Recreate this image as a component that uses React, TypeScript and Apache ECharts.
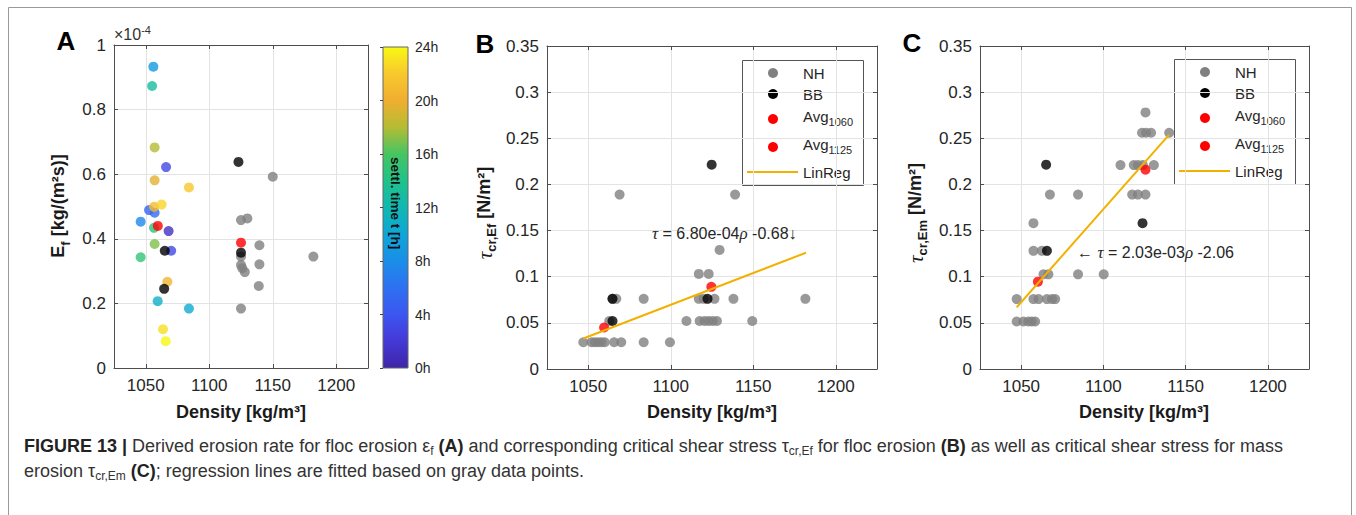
import React, { useEffect, useRef } from 'react';
import * as echarts from 'echarts';

const FONT = "'Liberation Sans', Arial, Helvetica, sans-serif";
const SERIF = "'Liberation Serif', 'DejaVu Serif', serif";

// ---------- data ----------
const densityTicks = [1050, 1100, 1150, 1200];

// parula-like colormap, 0h..24h in 2h steps
const parula = [
  '#3e26a8', '#4538d6', '#3c56f0', '#2e70f2', '#1a8ee8', '#0ea6d8', '#10b8b2',
  '#20c28a', '#46c562', '#b4bc34', '#f0ae30', '#f8c82e', '#f8f814',
];

// Panel A: E_f [1e-4 kg/(m2 s)]
const aNH = [
  [1125, 0.458], [1130, 0.463], [1139.5, 0.38], [1125, 0.345], [1125, 0.319],
  [1126, 0.309], [1128, 0.297], [1139.5, 0.321], [1139, 0.254], [1125, 0.184],
  [1182, 0.345], [1150, 0.592],
];
const aBB = [[1123, 0.638], [1125, 0.357], [1065, 0.363], [1064.5, 0.245]];
const aAvg = [[1059.5, 0.44], [1125, 0.388]];
// [density, E_f, settling time h]
const aTimed = [
  [1056, 0.933, 9], [1055, 0.873, 13], [1057, 0.683, 18], [1066, 0.622, 3],
  [1057, 0.581, 19.5], [1084, 0.559, 22], [1052.6, 0.489, 5], [1057, 0.481, 5.5],
  [1056.5, 0.499, 21], [1062.5, 0.506, 22.5], [1046, 0.453, 7.5], [1056.5, 0.434, 14.5],
  [1068, 0.424, 1], [1057, 0.384, 17], [1070, 0.363, 3], [1046, 0.343, 15],
  [1067, 0.267, 20.5], [1059.4, 0.207, 11], [1084, 0.184, 10.5], [1063.6, 0.12, 23],
  [1065.7, 0.083, 24],
];

// Panel B: tau_cr,Ef [N/m2]
const bNH = [
  [1069, 0.189], [1139, 0.189], [1129.6, 0.129], [1117, 0.103], [1123, 0.103],
  [1064.7, 0.076], [1067, 0.076], [1083.6, 0.076], [1117, 0.076], [1120, 0.076],
  [1126.5, 0.076], [1138, 0.076], [1181.6, 0.076],
  [1062.7, 0.052], [1109.5, 0.052], [1117.5, 0.052], [1120.5, 0.052], [1123, 0.052],
  [1125.5, 0.052], [1128, 0.052], [1149.4, 0.052],
  [1047, 0.029], [1052, 0.029], [1054, 0.029], [1056, 0.029], [1058, 0.029],
  [1060, 0.029], [1065.7, 0.029], [1070, 0.029], [1083.6, 0.029], [1099.5, 0.029],
];
const bBB = [[1124.8, 0.2214], [1064.7, 0.076], [1122.3, 0.076], [1064.7, 0.052]];
const bAvg = [[1059.6, 0.045], [1124.6, 0.089]];
const bReg = [[1047, 0.033], [1182, 0.126]];

// Panel C: tau_cr,Em [N/m2]
const cNH = [
  [1125.6, 0.278], [1123.5, 0.256], [1126, 0.256], [1129, 0.256], [1140, 0.256],
  [1110.4, 0.221], [1118.5, 0.221], [1121, 0.221], [1124, 0.221], [1130.7, 0.221],
  [1067.5, 0.189], [1084.6, 0.189], [1117.5, 0.189], [1121, 0.189], [1125.6, 0.189],
  [1057.5, 0.158], [1057.5, 0.128], [1062.6, 0.128],
  [1063.6, 0.1026], [1066.6, 0.1026], [1084.6, 0.1026], [1100.2, 0.1026],
  [1047.3, 0.0758], [1057.5, 0.0758], [1060.6, 0.0758], [1065.7, 0.0758], [1068.8, 0.0758], [1070.7, 0.0758],
  [1047.3, 0.0515], [1051.4, 0.0515], [1054.4, 0.0515], [1056.5, 0.0515], [1058.5, 0.0515],
];
const cBB = [[1065.2, 0.2214], [1123.8, 0.158], [1065.7, 0.128]];
const cAvg = [[1060.2, 0.0946], [1125.6, 0.216]];
const cReg = [[1047.3, 0.0668], [1140, 0.254]];

const legendItems = ['NH', 'BB', 'Avg1060', 'Avg1125', 'LinReg'];

// ---------- styles ----------
const GRAY = '#808080';
const RED = '#ff0000';
const ORANGE = '#f2b100';
const AXIS = '#4d4d4d';
const GRID = '#e3e3e3';
const INK = '#262626';

function xAxes(gridIndex: number) {
  return [
    {
      gridIndex, type: 'value', min: 1025, max: 1225, position: 'bottom',
      axisLine: { show: true, onZero: false, lineStyle: { color: AXIS } },
      axisTick: { show: true, inside: true, length: 4, customValues: densityTicks, lineStyle: { color: AXIS } },
      axisLabel: { customValues: densityTicks, formatter: (v: number) => String(v), color: INK, fontSize: 17, fontFamily: FONT, margin: 9 },
      splitLine: { show: true, lineStyle: { color: GRID } },
    },
    {
      gridIndex, type: 'value', min: 1025, max: 1225, position: 'top',
      axisLine: { show: true, onZero: false, lineStyle: { color: AXIS } },
      axisTick: { show: true, inside: true, length: 4, customValues: densityTicks, lineStyle: { color: AXIS } },
      axisLabel: { show: false },
      splitLine: { show: false },
    },
  ];
}
function yAxes(gridIndex: number, max: number, interval: number) {
  return [
    {
      gridIndex, type: 'value', min: 0, max, interval, position: 'left',
      axisLine: { show: true, onZero: false, lineStyle: { color: AXIS } },
      axisTick: { show: true, inside: true, length: 4, lineStyle: { color: AXIS } },
      axisLabel: { color: INK, fontSize: 17, fontFamily: FONT, margin: 8 },
      splitLine: { show: true, lineStyle: { color: GRID } },
    },
    {
      gridIndex, type: 'value', min: 0, max, interval, position: 'right',
      axisLine: { show: true, onZero: false, lineStyle: { color: AXIS } },
      axisTick: { show: true, inside: true, length: 4, lineStyle: { color: AXIS } },
      axisLabel: { show: false },
      splitLine: { show: false },
    },
  ];
}

function scatter(name: string, data: any, xi: number, color: string | null) {
  const s: any = {
    name, type: 'scatter', xAxisIndex: xi, yAxisIndex: xi, data,
    symbol: 'circle', symbolSize: 10, silent: true,
  };
  if (color) s.itemStyle = { color };
  return s;
}
function regLine(name: string, data: any, xi: number) {
  return {
    name, type: 'line', xAxisIndex: xi, yAxisIndex: xi, data, symbol: 'none', silent: true,
    lineStyle: { color: ORANGE, width: 2 },
  };
}

const subRich = {
  n: { fontSize: 15, verticalAlign: 'top', fontFamily: FONT, fill: INK },
  s: { fontSize: 11, verticalAlign: 'bottom', padding: [8, 0, 0, 0], fontFamily: FONT, fill: INK },
};

function legend(x0: number, y0: number) {
  const rows = [13, 34, 59, 87, 112];
  const colors = [GRAY, '#000000', RED, RED];
  const children: any[] = [
    { type: 'rect', shape: { x: x0 + 0.5, y: y0 + 0.5, width: 121, height: 125 }, style: { fill: '#ffffff', stroke: '#555', lineWidth: 1 } },
  ];
  legendItems.forEach((label, i) => {
    const y = y0 + rows[i];
    if (i < 4) {
      children.push({ type: 'circle', shape: { cx: x0 + 31, cy: y, r: 5 }, style: { fill: colors[i] } });
    } else {
      children.push({ type: 'line', shape: { x1: x0 + 5, y1: y, x2: x0 + 56, y2: y }, style: { stroke: ORANGE, lineWidth: 2 } });
    }
    const m = label.match(/^(Avg)(\d+)$/);
    if (m) {
      children.push({
        type: 'text', x: x0 + 61, y: y - 1,
        style: { text: `{n|${m[1]}}{s|${m[2]}}`, rich: subRich, align: 'left', verticalAlign: 'middle' },
      });
    } else {
      children.push({
        type: 'text', x: x0 + 61, y,
        style: { text: label, fontSize: 15, fontFamily: FONT, fill: INK, align: 'left', verticalAlign: 'middle' },
      });
    }
  });
  return { type: 'group', children, z: 100 };
}

const yNameRich = {
  b: { fontSize: 18, fontWeight: 'bold', verticalAlign: 'top', fontFamily: FONT, fill: '#1a1a1a' },
  t: { fontSize: 21, fontStyle: 'italic', verticalAlign: 'top', fontFamily: SERIF, fill: '#1a1a1a' },
  s: { fontSize: 13, fontWeight: 'bold', verticalAlign: 'bottom', padding: [10, 0, 0, 0], fontFamily: FONT, fill: '#1a1a1a' },
};

const annRich = {
  n: { fontSize: 16, fontFamily: FONT, fill: INK },
  t: { fontSize: 17, fontStyle: 'italic', fontFamily: SERIF, fill: INK },
};

const capRich = {
  n: { fontSize: 18, verticalAlign: 'top', fontFamily: FONT, fill: '#333333' },
  b: { fontSize: 18, verticalAlign: 'top', fontWeight: 'bold', fontFamily: FONT, fill: '#222222' },
  s: { fontSize: 12, verticalAlign: 'bottom', padding: [8, 0, 0, 0], fontFamily: FONT, fill: '#333333' },
};

function txt(x: number, y: number, text: string, extra: any, rotation = 0) {
  return {
    type: 'text', x, y, rotation, z: 100,
    style: { text, align: 'center', verticalAlign: 'middle', fontFamily: FONT, fill: '#1a1a1a', ...extra },
  };
}

export default function App() {
  const ref = useRef<HTMLDivElement>(null);
  useEffect(() => {
    if (!ref.current) return;
    const chart = echarts.init(ref.current, null, { renderer: 'svg' });

    const gradient = {
      type: 'linear', x: 0, y: 1, x2: 0, y2: 0,
      colorStops: parula.map((c, i) => ({ offset: i / (parula.length - 1), color: c })),
    };

    const series: any[] = [
      scatter('NH', aNH, 0, GRAY),
      scatter('timed', aTimed, 0, null),
      scatter('BB', aBB, 0, '#000000'),
      scatter('Avg', aAvg, 0, RED),
      scatter('NH', bNH, 2, GRAY),
      regLine('LinReg', bReg, 2),
      scatter('BB', bBB, 2, '#000000'),
      scatter('Avg', bAvg, 2, RED),
      scatter('NH', cNH, 4, GRAY),
      regLine('LinReg', cReg, 4),
      scatter('BB', cBB, 4, '#000000'),
      scatter('Avg', cAvg, 4, RED),
    ];

    const option: any = {
      animation: false,
      backgroundColor: '#ffffff',
      textStyle: { fontFamily: FONT },
      grid: [
        { left: 114, top: 45, width: 254, height: 323 },
        { left: 547, top: 46, width: 330, height: 323 },
        { left: 980, top: 46, width: 329, height: 323 },
        { left: 383, top: 47, width: 25, height: 321, show: true, backgroundColor: gradient, borderColor: '#666', borderWidth: 1 },
      ],
      xAxis: [
        ...xAxes(0), ...xAxes(1), ...xAxes(2),
        { gridIndex: 3, type: 'value', min: 0, max: 1, show: false },
      ],
      yAxis: [
        ...yAxes(0, 1, 0.2), ...yAxes(1, 0.35, 0.05), ...yAxes(2, 0.35, 0.05),
        {
          gridIndex: 3, type: 'value', min: 0, max: 24, interval: 4, position: 'right',
          axisLine: { show: false },
          axisTick: { show: true, inside: true, length: 3, lineStyle: { color: '#444' } },
          axisLabel: { formatter: '{value}h', color: INK, fontSize: 14, fontFamily: FONT, margin: 7 },
          splitLine: { show: false },
        },
      ],
      visualMap: [{
        type: 'continuous', show: false, min: 0, max: 24, dimension: 2, seriesIndex: 1,
        inRange: { color: parula },
      }],
      series,
      graphic: [
        { type: 'polyline', shape: { points: [[8.5, 520], [8.5, 7.5], [1351.5, 7.5], [1351.5, 520]] }, style: { stroke: '#999', lineWidth: 1, fill: null } },
        txt(66, 41, 'A', { fontSize: 26, fontWeight: 'bold', fill: '#000' }),
        txt(485, 44, 'B', { fontSize: 26, fontWeight: 'bold', fill: '#000' }),
        txt(912, 43, 'C', { fontSize: 26, fontWeight: 'bold', fill: '#000' }),
        {
          type: 'text', x: 114, y: 33, z: 100,
          style: {
            text: '{n|×10}{p|-4}', align: 'left', verticalAlign: 'middle',
            rich: {
              n: { fontSize: 16, verticalAlign: 'bottom', fontFamily: FONT, fill: '#333' },
              p: { fontSize: 11, verticalAlign: 'top', padding: [0, 0, 7, 0], fontFamily: FONT, fill: '#333' },
            },
          },
        },
        txt(60, 206, '{b|E}{s|f}{b| [kg/(m²s)]}', { rich: yNameRich }, Math.PI / 2),
        txt(486, 213, '{t|τ}{s|cr,Ef}{b| [N/m²]}', { rich: yNameRich }, Math.PI / 2),
        txt(917, 213, '{t|τ}{s|cr,Em}{b| [N/m²]}', { rich: yNameRich }, Math.PI / 2),
        txt(241, 412, 'Density [kg/m³]', { fontSize: 18, fontWeight: 'bold' }),
        txt(712, 412, 'Density [kg/m³]', { fontSize: 18, fontWeight: 'bold' }),
        txt(1144, 412, 'Density [kg/m³]', { fontSize: 18, fontWeight: 'bold' }),
        txt(395, 203, 'settl. time t [h]', { fontSize: 13.5, fontWeight: 'bold', fill: '#111' }, -Math.PI / 2),
        {
          type: 'text', x: 652, y: 233, z: 100,
          style: { text: '{t|τ}{n| = 6.80e-04}{t|ρ}{n| -0.68↓}', rich: annRich, align: 'left', verticalAlign: 'middle' },
        },
        {
          type: 'text', x: 1077, y: 252, z: 100,
          style: { text: '{n|← }{t|τ}{n| = 2.03e-03}{t|ρ}{n| -2.06}', rich: annRich, align: 'left', verticalAlign: 'middle' },
        },
        legend(742, 60),
        legend(1174, 59),
        {
          type: 'text', x: 24, y: 447, z: 100,
          style: {
            text: '{b|FIGURE 13 | }{n|Derived erosion rate for floc erosion ε}{s|f}{n| }{b|(A)}{n| and corresponding critical shear stress τ}{s|cr,Ef}{n| for floc erosion }{b|(B)}{n| as well as critical shear stress for mass}',
            rich: capRich, align: 'left', verticalAlign: 'middle',
          },
        },
        {
          type: 'text', x: 24, y: 472, z: 100,
          style: {
            text: '{n|erosion τ}{s|cr,Em}{n| }{b|(C)}{n|; regression lines are fitted based on gray data points.}',
            rich: capRich, align: 'left', verticalAlign: 'middle',
          },
        },
      ],
    };
    chart.setOption(option);
    return () => chart.dispose();
  }, []);
  return <div ref={ref} style={{ position: 'fixed', left: 0, top: 0, width: 1356, height: 515 }} />;
}
